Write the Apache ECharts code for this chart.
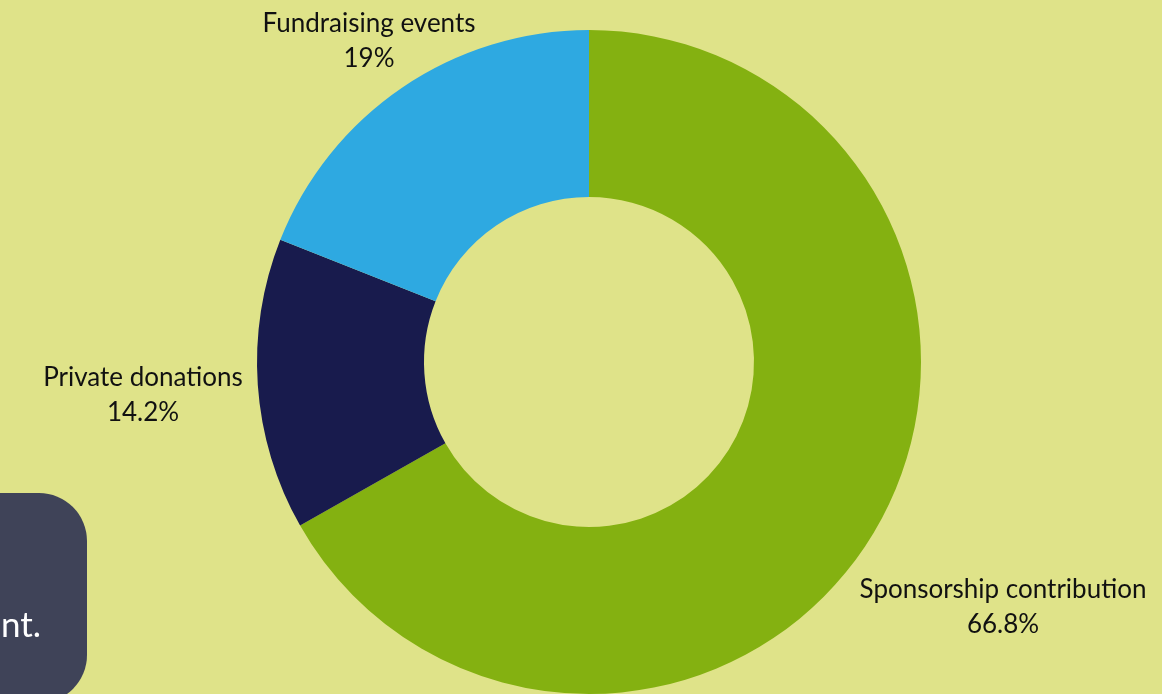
<!DOCTYPE html>
<html>
<head>
<meta charset="utf-8">
<script src="https://cdn.jsdelivr.net/npm/echarts@6/dist/echarts.min.js"></script>
<style>
html,body{margin:0;padding:0;background:#dfe389;}
#main{width:1162px;height:694px;}
</style>
</head>
<body>
<div id="main"></div>
<script>
const categories = ['Sponsorship contribution', 'Private donations', 'Fundraising events'];
const values = [66.8, 14.2, 19];
const colors = ['#84b111', '#181b4d', '#2ea9e1'];

// label anchor positions (layout only)
const labelPos = [[1003, 607], [143, 395], [369, 41]];

const chart = echarts.init(document.getElementById('main'));
chart.setOption({
  backgroundColor: '#dfe389',
  animation: false,
  series: [{
    type: 'pie',
    center: [589, 362],
    radius: [165, 332],
    startAngle: 90,
    clockwise: true,
    data: categories.map((c, i) => ({ name: c, value: values[i], itemStyle: { color: colors[i] } })),
    label: {
      show: true,
      position: 'outside',
      formatter: p => p.name + '\n' + p.value + '%',
      fontFamily: 'Lato',
      fontSize: 26,
      lineHeight: 35,
      color: '#111111',
      align: 'center',
      width: 400,
      overflow: 'none'
    },
    labelLine: { show: false },
    labelLayout: function (params) {
      const pos = labelPos[params.dataIndex];
      return { x: pos[0], y: pos[1], align: 'center', verticalAlign: 'middle' };
    },
    emphasis: { disabled: true }
  }],
  graphic: [
    {
      type: 'rect',
      shape: { x: -80, y: 493, width: 167, height: 210, r: 48 },
      style: { fill: '#3f4358' }
    },
    {
      type: 'text',
      style: {
        text: 'nt.',
        x: 41, y: 626,
        align: 'right', verticalAlign: 'middle',
        fontFamily: 'Lato', fontSize: 35,
        fill: '#ffffff'
      }
    }
  ]
});
</script>
</body>
</html>
